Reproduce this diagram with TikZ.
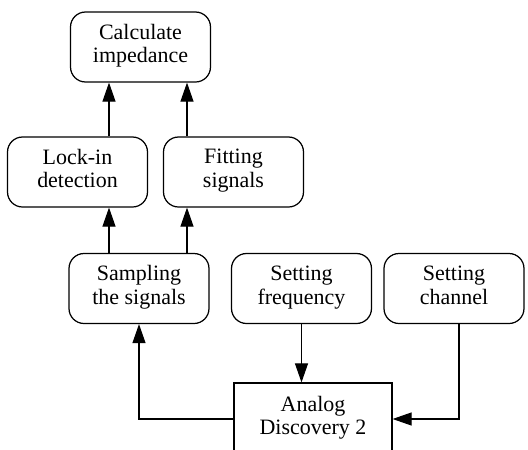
\documentclass[tikz,border=0pt]{standalone}
\usepackage{fontspec}
\setmainfont{Liberation Serif}
\usetikzlibrary{arrows.meta}

\begin{document}
\begin{tikzpicture}[x=0.02cm,y=-0.02cm,
 box/.style={draw,line width=0.7pt,rounded corners=0.3cm,align=center,
   minimum width=2.8cm,minimum height=1.4cm,inner sep=0pt,
   font=\fontsize{12.5}{13.5}\selectfont,
   execute at begin node=\strut,execute at end node=\strut},
 adbox/.style={box,rounded corners=0pt,minimum width=3.16cm,minimum height=1.44cm},
 arr/.style={line width=0.6pt,-{Triangle[length=0.38cm,width=0.26cm]}}]

\useasboundingbox (0,0) rectangle (528,450);

\node[box] (calc) at (140.5,47) {Calculate\\impedance};
\node[box] (lock) at (77.5,172) {Lock-in\\detection};
\node[box] (fit) at (233.5,172) {Fitting\\signals};
\node[box] (samp) at (139,288.5) {Sampling\\the signals};
\node[box] (freq) at (301.5,288.5) {Setting\\frequency};
\node[box] (chan) at (454,288.5) {Setting\\channel};
\node[adbox] (ad) at (313,419) {Analog\\Discovery 2};

\coordinate (c1) at (109,0);
\coordinate (c2) at (187,0);
\coordinate (c3) at (459,0);

\foreach \i in {1,2}
{
\draw[arr] (samp.north -| c\i) -- (lock.south -| c\i);
\draw[arr] (lock.north -| c\i) -- (calc.south -| c\i);
}
\draw[arr] (freq.south) -- (freq.south |- ad.north);
\draw[arr] (ad.west) -| (samp.south);
\draw[arr] (chan.south -| c3) |- (ad.east);
\end{tikzpicture}
\end{document}
